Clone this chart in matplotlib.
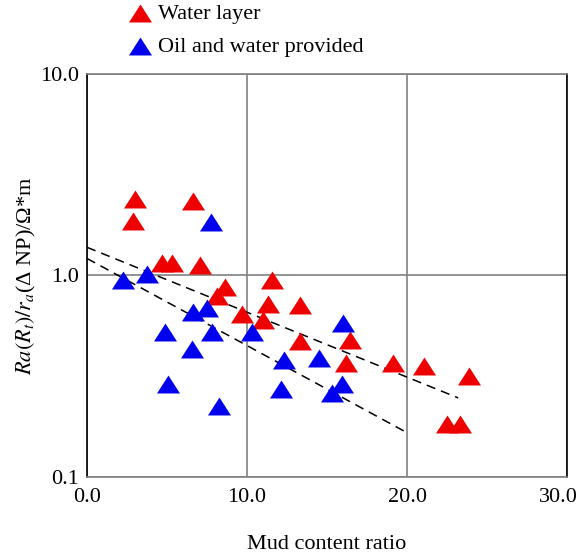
import matplotlib

matplotlib.use("Agg")
import matplotlib.pyplot as plt
import matplotlib.transforms as mtransforms
import numpy as np

# Water layer points (mud content ratio, Ra(Rt)/ra(ΔNP))
water_x = [3.01, 2.88, 6.60, 4.68, 5.32, 7.05, 11.57, 8.65, 8.14, 11.33, 13.31,
           9.68, 11.02, 13.31, 16.45, 16.20, 19.10, 21.08, 23.86, 22.47, 23.29]
water_y = [2.39, 1.86, 2.33, 1.16, 1.15, 1.13, 0.955, 0.872, 0.795, 0.726, 0.717,
           0.647, 0.604, 0.475, 0.481, 0.369, 0.369, 0.357, 0.318, 0.184, 0.184]

# Oil and water provided points
oil_x = [2.24, 3.72, 7.76, 6.60, 7.50, 7.82, 6.54, 4.87, 5.06, 10.30, 16.02,
         12.29, 14.49, 12.15, 15.96, 15.31, 8.25]
oil_y = [0.955, 1.023, 1.835, 0.662, 0.689, 0.522, 0.431, 0.526, 0.290, 0.526, 0.584,
         0.382, 0.391, 0.275, 0.290, 0.262, 0.226]

# dashed trend lines: (x0, y0) -> (x1, y1)
trend_upper_x = [0.0, 23.2]
trend_upper_y = [1.38, 0.247]
trend_lower_x = [0.0, 20.0]
trend_lower_y = [1.215, 0.166]

x_ticks = [0, 10, 20, 30]
x_ticklabels = ["0.0", "10.0", "20.0", "30.0"]
y_ticks = [0.1, 1, 10]
y_ticklabels = ["0.1", "1.0", "10.0"]

plt.rcParams["font.family"] = ["Liberation Serif", "DejaVu Serif"]
plt.rcParams["mathtext.fontset"] = "stix"
plt.rcParams["font.size"] = 16

fig = plt.figure(figsize=(5.8, 5.56), dpi=100)
ax = fig.add_axes([0.150, 0.142, 0.8276, 0.725])

tri = [(-1.0, -0.78), (1.0, -0.78), (0.0, 0.78)]

ax.plot(trend_upper_x, trend_upper_y, color="black", linestyle=(0, (6, 4)), linewidth=1.1, zorder=2)
ax.plot(trend_lower_x, trend_lower_y, color="black", linestyle=(0, (6, 4)), linewidth=1.1, zorder=2)

ax.scatter(water_x, water_y, marker=tri, s=275, color="#ee0000", linewidths=0, zorder=3, label="Water layer")
ax.scatter(oil_x, oil_y, marker=tri, s=275, color="#0000ee", linewidths=0, zorder=3, label="Oil and water provided")

ax.set_yscale("log")
ax.set_xlim(0, 30)
ax.set_ylim(0.1, 10)
ax.set_xticks(x_ticks)
ax.set_xticklabels(x_ticklabels)
ax.set_yticks(y_ticks)
ax.set_yticklabels(y_ticklabels)
ax.yaxis.set_minor_locator(matplotlib.ticker.NullLocator())
ax.tick_params(axis="both", length=0)
ax.tick_params(axis="x", pad=8)
ax.tick_params(axis="y", pad=6)

# the last x label sits against the right edge of the picture
last = ax.get_xticklabels()[-1]
last.set_transform(last.get_transform() + mtransforms.ScaledTranslation(-9 / 100, 0, fig.dpi_scale_trans))

ax.grid(True, color="#808080", linewidth=1.2)
ax.set_axisbelow(True)
for side in ("left", "right"):
    ax.spines[side].set_color("black")
    ax.spines[side].set_linewidth(1.2)
for side in ("top", "bottom"):
    ax.spines[side].set_color("#808080")
    ax.spines[side].set_linewidth(1.2)

ax.set_xlabel("Mud content ratio", labelpad=20)
ax.set_ylabel(r"$Ra(R_t)/r_a$(Δ NP)/Ω*m", labelpad=1)

ax.legend(
    loc="upper left",
    bbox_to_anchor=(0.207, 1.01),
    bbox_transform=fig.transFigure,
    frameon=False,
    handlelength=1.0,
    handletextpad=0.3,
    labelspacing=0.55,
    borderaxespad=0,
)

fig.savefig("out.png", dpi=100)
